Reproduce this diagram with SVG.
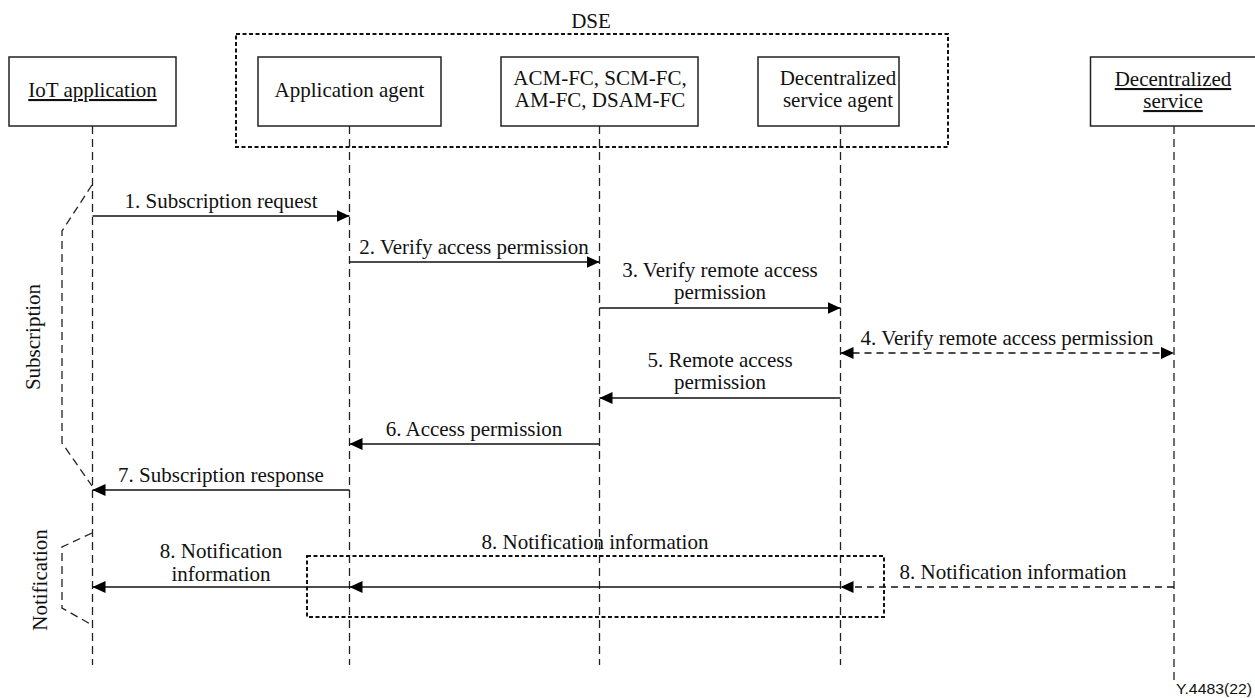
<svg xmlns="http://www.w3.org/2000/svg" width="1255" height="698" viewBox="0 0 1255 698">
  <style>
    text { font-family: "Liberation Serif", Tinos, "Times New Roman", Times, "DejaVu Serif", serif; font-size: 21px; fill: #111; text-anchor: middle; }
    .box { fill: #fff; stroke: #222; stroke-width: 1.5; }
    .group { fill: none; stroke: #111; stroke-width: 2; stroke-dasharray: 4 2.5; }
    .life { fill: none; stroke: #222; stroke-width: 1.3; stroke-dasharray: 8 5; }
    .brace { fill: none; stroke: #222; stroke-width: 1.3; stroke-dasharray: 8 5; }
    .msg { fill: none; stroke: #111; stroke-width: 1.5; }
    .msg-dash { fill: none; stroke: #111; stroke-width: 1.5; stroke-dasharray: 7 5; }
    .u { text-decoration: underline; }
    text.ref { font-family: "Liberation Sans", Arial, sans-serif; font-size: 15px; text-anchor: end; }
  </style>
  <defs>
    <marker id="head" markerUnits="userSpaceOnUse" markerWidth="13" markerHeight="12" viewBox="0 0 13 12" refX="13" refY="6" orient="auto-start-reverse">
      <path d="M0,0 L13,6 L0,12 Z" fill="#000"/>
    </marker>
  </defs>

  <rect width="1255" height="698" fill="#fff"/>

  <!-- DSE grouping -->
  <g id="dse">
    <rect class="group" x="236" y="34" width="712" height="113"/>
    <text x="591" y="28">DSE</text>
  </g>

  <!-- lifelines -->
  <g id="lifelines">
    <line class="life" x1="92.5" y1="126" x2="92.5" y2="665"/>
    <line class="life" x1="349.5" y1="126" x2="349.5" y2="665"/>
    <line class="life" x1="599.5" y1="126" x2="599.5" y2="665"/>
    <line class="life" x1="840.5" y1="126" x2="840.5" y2="665"/>
    <line class="life" x1="1174" y1="126" x2="1174" y2="680"/>
  </g>

  <!-- participants -->
  <g id="iot-application">
    <rect class="box" x="9" y="57" width="167" height="69"/>
    <text class="u" x="92.5" y="97" font-family="Liberation Serif, serif">IoT application</text>
  </g>
  <g id="application-agent">
    <rect class="box" x="258" y="57" width="183" height="69"/>
    <text x="349.5" y="97">Application agent</text>
  </g>
  <g id="function-components">
    <rect class="box" x="501" y="57" width="197" height="69"/>
    <text x="600" y="85">ACM-FC, SCM-FC,</text>
    <text x="600" y="107">AM-FC, DSAM-FC</text>
  </g>
  <g id="decentralized-service-agent">
    <rect class="box" x="758" y="57" width="141" height="69"/>
    <text x="838" y="85">Decentralized</text>
    <text x="838" y="107">service agent</text>
  </g>
  <g id="decentralized-service">
    <rect class="box" x="1090.5" y="57" width="175" height="69"/>
    <text class="u" x="1173" y="86">Decentralized</text>
    <text class="u" x="1173" y="108">service</text>
  </g>

  <!-- phase brackets -->
  <g id="phase-subscription">
    <polyline class="brace" points="92,185 62,231 62,443 92,486"/>
    <text transform="translate(40,337) rotate(-90)">Subscription</text>
  </g>
  <g id="phase-notification">
    <polyline class="brace" points="92,533 62,547 62,608 92,625"/>
    <text transform="translate(47,580) rotate(-90)">Notification</text>
  </g>

  <!-- notification relay grouping -->
  <g id="relay">
    <rect class="group" x="307" y="556" width="577" height="61"/>
  </g>

  <!-- messages -->
  <g id="connectors">
    <line class="msg" x1="92.5" y1="216" x2="349.5" y2="216" marker-end="url(#head)"/>
    <text x="221" y="208">1. Subscription request</text>

    <line class="msg" x1="349.5" y1="262" x2="599.5" y2="262" marker-end="url(#head)"/>
    <text x="474" y="254">2. Verify access permission</text>

    <line class="msg" x1="599.5" y1="308" x2="840.5" y2="308" marker-end="url(#head)"/>
    <text x="720" y="277">3. Verify remote access</text>
    <text x="720" y="299">permission</text>

    <line class="msg-dash" x1="840.5" y1="353" x2="1174" y2="353" marker-start="url(#head)" marker-end="url(#head)"/>
    <text x="1007" y="345">4. Verify remote access permission</text>

    <line class="msg" x1="840.5" y1="398" x2="599.5" y2="398" marker-end="url(#head)"/>
    <text x="720" y="367">5. Remote access</text>
    <text x="720" y="389">permission</text>

    <line class="msg" x1="599.5" y1="444" x2="349.5" y2="444" marker-end="url(#head)"/>
    <text x="474" y="436">6. Access permission</text>

    <line class="msg" x1="349.5" y1="490" x2="92.5" y2="490" marker-end="url(#head)"/>
    <text x="221" y="482">7. Subscription response</text>

    <line class="msg-dash" x1="1174" y1="587" x2="840.5" y2="587" marker-end="url(#head)"/>
    <text x="1013" y="579">8. Notification information</text>

    <line class="msg" x1="840.5" y1="587" x2="349.5" y2="587" marker-end="url(#head)"/>
    <text x="595" y="549">8. Notification information</text>

    <line class="msg" x1="349.5" y1="587" x2="92.5" y2="587" marker-end="url(#head)"/>
    <text x="221" y="558">8. Notification</text>
    <text x="221" y="581">information</text>
  </g>

  <text class="ref" x="1252" y="694" textLength="76" lengthAdjust="spacingAndGlyphs">Y.4483(22)</text>
</svg>
